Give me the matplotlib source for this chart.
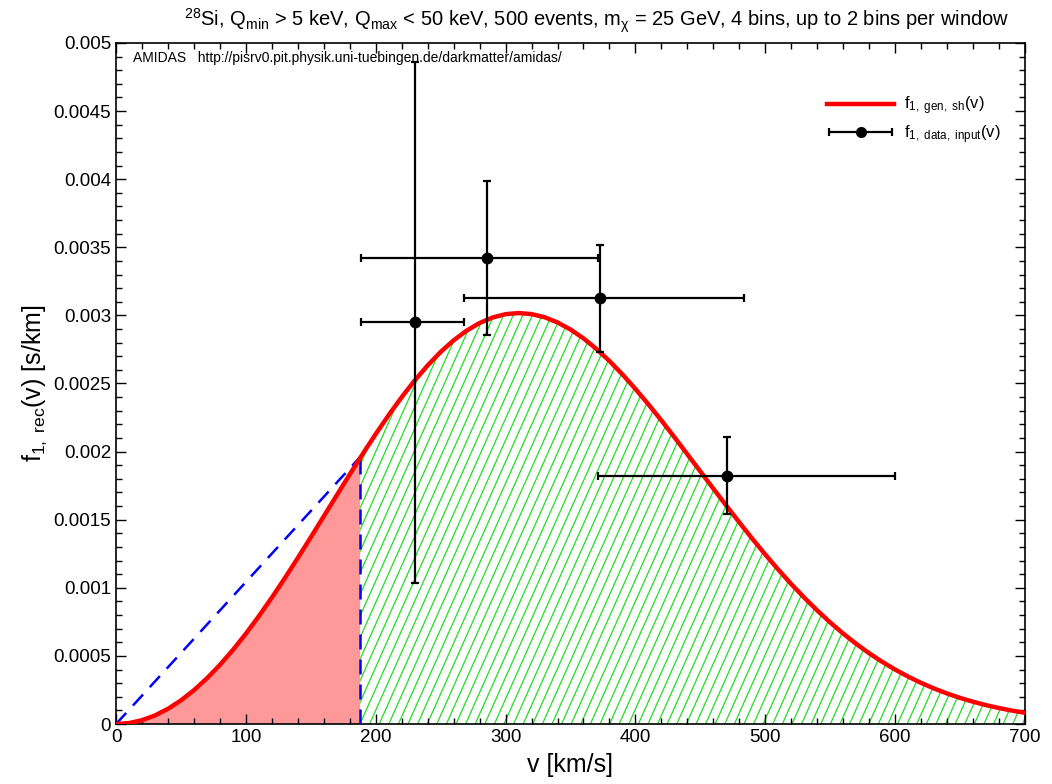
import numpy as np
import matplotlib
matplotlib.use("Agg")
import matplotlib.pyplot as plt
from matplotlib.ticker import MultipleLocator, FuncFormatter
from matplotlib.collections import LineCollection
from matplotlib.container import ErrorbarContainer
from matplotlib.legend_handler import HandlerErrorbar

plt.rcParams['font.family'] = ['Liberation Sans', 'DejaVu Sans']
plt.rcParams['mathtext.fontset'] = 'custom'
plt.rcParams['mathtext.rm'] = 'Liberation Sans'
plt.rcParams['mathtext.it'] = 'Liberation Sans:italic'
plt.rcParams['mathtext.bf'] = 'Liberation Sans:bold'

# ---- data ----
v_curve = [0, 10, 20, 30, 40, 50, 60, 70, 80, 90, 100, 110, 120, 130, 140, 150,
           160, 170, 180, 188, 190, 200, 210, 220, 230, 240, 250, 260, 270, 280,
           290, 300, 310, 320, 330, 340, 350, 360, 370, 380, 390, 400, 410, 420,
           430, 440, 450, 460, 470, 480, 490, 500, 510, 520, 530, 540, 550, 560,
           570, 580, 590, 600, 610, 620, 630, 640, 650, 660, 670, 680, 690, 700]
f_curve = [0.0, 0.00703e-3, 0.0281e-3, 0.0630e-3, 0.1116e-3, 0.1735e-3,
           0.2483e-3, 0.3353e-3, 0.4340e-3, 0.5437e-3, 0.6632e-3, 0.7920e-3,
           0.9283e-3, 1.0712e-3, 1.2193e-3, 1.3712e-3, 1.5251e-3, 1.6796e-3,
           1.8329e-3, 1.9534e-3, 1.9832e-3, 2.1289e-3, 2.2683e-3, 2.3997e-3,
           2.5217e-3, 2.6328e-3, 2.7316e-3, 2.8169e-3, 2.8880e-3, 2.9440e-3,
           2.9844e-3, 3.0090e-3, 3.0171e-3, 3.0095e-3, 2.9866e-3, 2.9484e-3,
           2.8964e-3, 2.8313e-3, 2.7533e-3, 2.6650e-3, 2.5666e-3, 2.4602e-3,
           2.3469e-3, 2.2288e-3, 2.1058e-3, 1.9803e-3, 1.8544e-3, 1.7282e-3,
           1.6031e-3, 1.4804e-3, 1.3604e-3, 1.2445e-3, 1.1336e-3, 1.0276e-3,
           0.9279e-3, 0.8339e-3, 0.7458e-3, 0.6640e-3, 0.5889e-3, 0.5196e-3,
           0.4569e-3, 0.3997e-3, 0.3483e-3, 0.3020e-3, 0.2607e-3, 0.2242e-3,
           0.1918e-3, 0.1635e-3, 0.1387e-3, 0.1172e-3, 0.0986e-3, 0.0825e-3]

v_cut = 188.0            # lower boundary of the reconstruction range
f_cut = 0.00196

v_data = [230.5, 285.4, 372.7, 470.9]
f_data = [0.002954, 0.003424, 0.003125, 0.001823]
v_lo = [188.7, 188.7, 267.7, 370.9]
v_hi = [267.7, 371.4, 483.8, 599.9]
f_lo = [0.001035, 0.002856, 0.002733, 0.001544]
f_hi = [0.004863, 0.003987, 0.003519, 0.002105]

title = (r'$^{28}$Si, Q$_{\rm min}$ > 5 keV, Q$_{\rm max}$ < 50 keV, 500 events, '
         r'm$_{\rm χ}$ = 25 GeV, 4 bins, up to 2 bins per window')

# ---- figure ----
fig = plt.figure(figsize=(10.52, 7.84), dpi=100)
ax = fig.add_axes([0.1103, 0.0765, 0.8640, 0.8687])
ax.set_xlim(0, 700)
ax.set_ylim(0, 0.005)

vc = np.array(v_curve)
fc = np.array(f_curve)
lo = vc <= v_cut
hi = vc >= v_cut

ax.fill_between(vc[lo], 0, fc[lo], facecolor='#FF9999', edgecolor='none',
                linewidth=0, zorder=1)
green = ax.fill_between(vc[hi], 0, fc[hi], facecolor='none', edgecolor='none',
                        linewidth=0, zorder=1)

# steep diagonal hatching (style only), clipped to the green region
ax_w_px, ax_h_px = 909.0, 681.0
step = 9.6 / ax_w_px
run = (ax_h_px / np.tan(np.radians(66))) / ax_w_px
starts = np.arange(-run - step, 1.0 + step, step)
segs = [[(s, 0.0), (s + run, 1.0)] for s in starts]
lc = LineCollection(segs, colors='#22DD22', linewidths=0.9,
                    transform=ax.transAxes, zorder=1.5)
ax.add_collection(lc)
lc.set_clip_path(green.get_paths()[0], green.get_transform())

ax.plot([0, v_cut], [0, f_cut], color='#0000FF', lw=1.8, dashes=(6, 4), zorder=3)
ax.plot([v_cut, v_cut], [0, f_cut], color='#0000FF', lw=1.8, dashes=(6, 4), zorder=3)

ax.plot(vc, fc, color='#FF0000', lw=3.2, zorder=4,
        label=r'f$_{\rm 1,\ gen,\ sh}$(v)')

vd = np.array(v_data)
fd = np.array(f_data)
xerr = [vd - np.array(v_lo), np.array(v_hi) - vd]
yerr = [fd - np.array(f_lo), np.array(f_hi) - fd]
ax.errorbar(vd, fd, xerr=xerr, yerr=yerr, fmt='o', color='black', ms=7.5,
            elinewidth=1.6, capsize=3, capthick=1.6, zorder=5)
# legend proxy with horizontal bar only
ax.errorbar([-1000], [-1], xerr=[[10], [10]], fmt='o', color='black', ms=7,
            elinewidth=1.6, capsize=3, capthick=1.6,
            label=r'f$_{\rm 1,\ data,\ input}$(v)')

ax.xaxis.set_major_locator(MultipleLocator(100))
ax.xaxis.set_minor_locator(MultipleLocator(20))
ax.yaxis.set_major_locator(MultipleLocator(0.0005))
ax.yaxis.set_minor_locator(MultipleLocator(0.0001))
ax.yaxis.set_major_formatter(FuncFormatter(lambda y, p: '%g' % round(y, 6)))
ax.tick_params(which='both', direction='in', top=True, right=True,
               labelsize=13.5, width=1)
ax.tick_params(which='major', length=7)
ax.tick_params(which='minor', length=4)
for s in ax.spines.values():
    s.set_linewidth(1.2)

ax.set_xlabel('v [km/s]', fontsize=18, labelpad=5)
ax.set_ylabel(r'f$_{\rm 1,\ rec}$(v) [s/km]', fontsize=18, labelpad=3)
ax.text(0.529, 1.012, title, transform=ax.transAxes, fontsize=14.5,
        ha='center', va='bottom')

ax.text(0.019, 0.988, 'AMIDAS   http://pisrv0.pit.physik.uni-tuebingen.de/darkmatter/amidas/',
        transform=ax.transAxes, fontsize=10, va='top', ha='left')

leg = ax.legend(loc='upper right', bbox_to_anchor=(0.990, 0.946), frameon=False,
                fontsize=12, handlelength=4.0, labelspacing=0.35,
                handletextpad=0.6,
                handler_map={ErrorbarContainer: HandlerErrorbar(xerr_size=1.9)})

fig.savefig('out.png', dpi=100)
